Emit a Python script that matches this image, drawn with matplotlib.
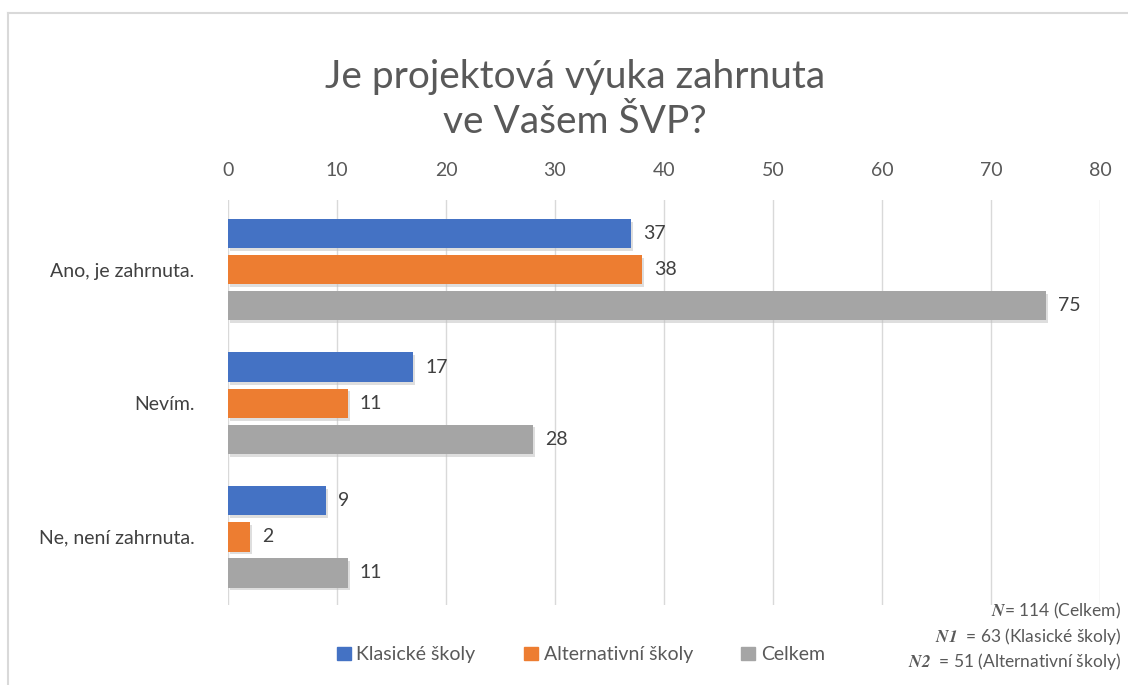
import matplotlib.pyplot as plt
import matplotlib.patheffects as pe
from matplotlib.lines import Line2D
from matplotlib.patches import Patch

plt.rcParams['font.family'] = ['Lato', 'DejaVu Sans']
plt.rcParams['mathtext.fontset'] = 'stix'

categories = ["Ano, je zahrnuta.", "Nevím.", "Ne, není zahrnuta."]
series = ["Klasické školy", "Alternativní školy", "Celkem"]
klasicke = [37, 17, 9]
alternativni = [38, 11, 2]
celkem = [75, 28, 11]
ticks = [0, 10, 20, 30, 40, 50, 60, 70, 80]
colors = ["#4472C4", "#ED7D31", "#A5A5A5"]

fig = plt.figure(figsize=(11.28, 6.85), dpi=100)
ax = fig.add_axes([0.2021, 0.1168, 0.7731, 0.591])

# outer frame (left and top only, like the source)
fig.add_artist(Line2D([0.0075, 0.0075], [0, 0.981], color="#D9D9D9", lw=1.5, transform=fig.transFigure))
fig.add_artist(Line2D([0.0075, 0.999], [0.981, 0.981], color="#D9D9D9", lw=1.5, transform=fig.transFigure))

offsets = [-0.27, 0, 0.27]
shadow = [pe.SimplePatchShadow(offset=(1.5, -2), shadow_rgbFace="#BFBFBF", alpha=0.5), pe.Normal()]
for vals, off, col in zip([klasicke, alternativni, celkem], offsets, colors):
    ys = [i + off for i in range(len(categories))]
    bars = ax.barh(ys, vals, height=0.22, color=col, zorder=3)
    for b in bars:
        b.set_path_effects(shadow)
    for y, v in zip(ys, vals):
        ax.text(v + 1.1, y, str(v), va="center", ha="left", fontsize=14, color="#404040")

ax.set_xlim(0, 80)
ax.set_ylim(2.51, -0.52)
ax.set_xticks(ticks)
ax.xaxis.tick_top()
ax.tick_params(axis="x", length=0, labelsize=14, labelcolor="#595959", pad=15)
ax.set_yticks(range(len(categories)))
ax.set_yticklabels(categories)
ax.tick_params(axis="y", length=0, labelsize=14, labelcolor="#404040", pad=24)
ax.grid(axis="x", color="#D9D9D9", lw=1, zorder=0)
for s in ax.spines.values():
    s.set_visible(False)

fig.text(0.51, 0.855, "Je projektová výuka zahrnuta\nve Vašem ŠVP?", ha="center", va="center",
         fontsize=28, color="#595959", linespacing=1.3)

handles = [Patch(color=c) for c in colors]
fig.legend(handles, series, loc="center", bbox_to_anchor=(0.515, 0.044), ncol=3, frameon=False,
           fontsize=14, labelcolor="#595959", handlelength=0.7, handleheight=0.7,
           handletextpad=0.3, columnspacing=2.5)

nx = 0.994
fig.text(nx, 0.108, r"$\mathbfit{N}$= 114 (Celkem)", ha="right", va="center", fontsize=12.5, color="#595959")
fig.text(nx, 0.071, r"$\mathbfit{N1}$  = 63 (Klasické školy)", ha="right", va="center", fontsize=12.5, color="#595959")
fig.text(nx, 0.034, r"$\mathbfit{N2}$  = 51 (Alternativní školy)", ha="right", va="center", fontsize=12.5, color="#595959")

fig.savefig("out.png", dpi=100)
